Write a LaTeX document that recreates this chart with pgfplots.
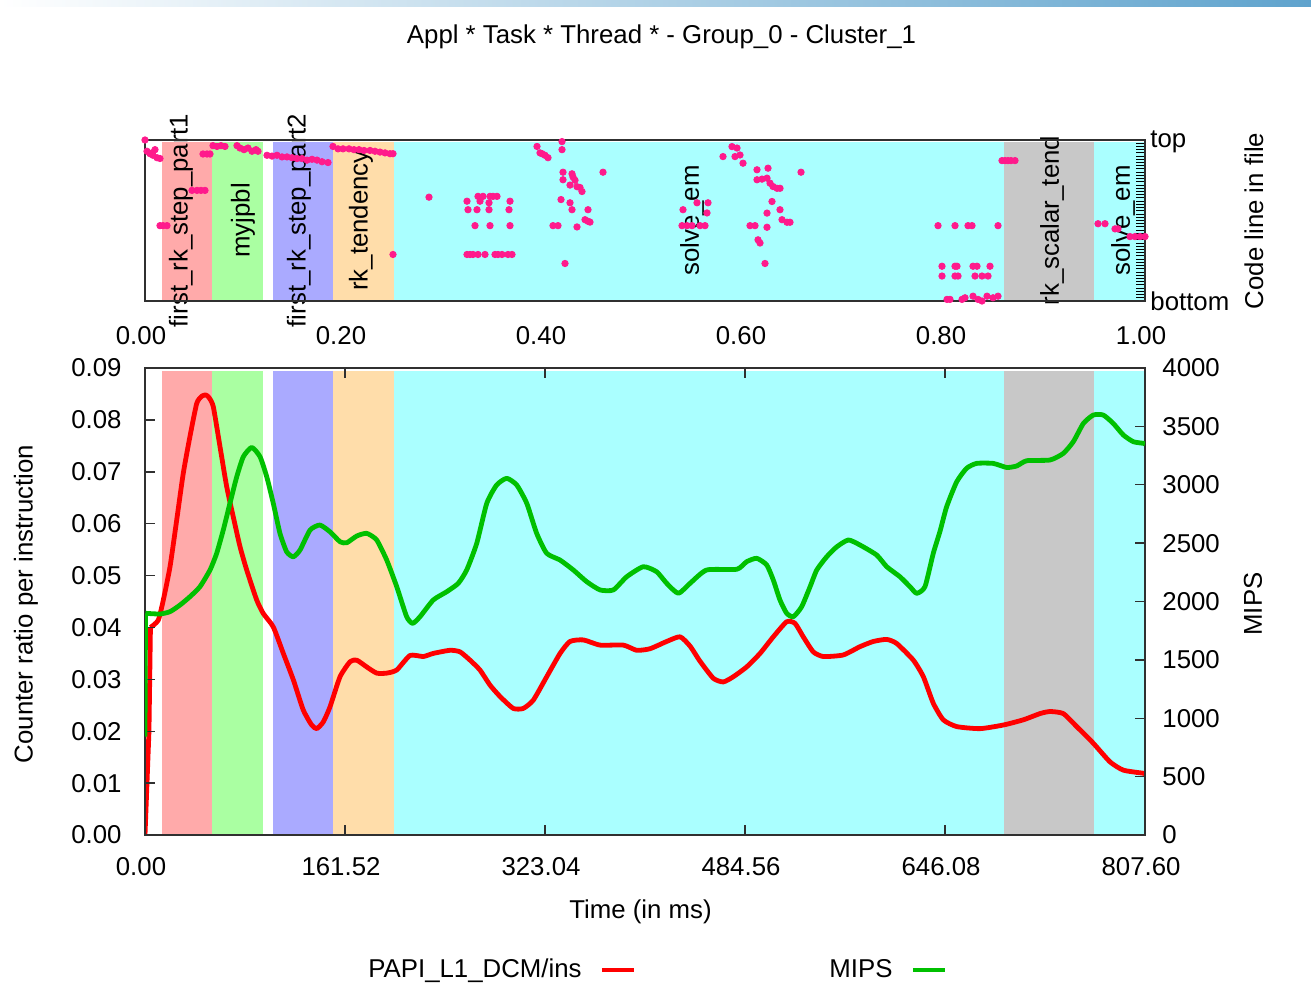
\documentclass[border=0pt]{standalone}
\usepackage{fontspec}
\setmainfont{Liberation Sans}
\usepackage{pgfplots}
\pgfplotsset{compat=1.18}
\definecolor{regred}{HTML}{FFAAAA}
\definecolor{reggreen}{HTML}{AAFFA2}
\definecolor{regblue}{HTML}{AAAAFF}
\definecolor{regorange}{HTML}{FFDDAA}
\definecolor{regcyan}{HTML}{AAFFFF}
\definecolor{reggray}{HTML}{C8C8C8}
\definecolor{linered}{HTML}{FF0000}
\definecolor{linegreen}{HTML}{00C000}
\definecolor{dotpink}{HTML}{FF1A8C}
\definecolor{stripblue}{HTML}{5FA3CD}
\definecolor{frame}{HTML}{303030}
\pgfplotsset{scaled ticks=false}
\begin{document}
\begin{tikzpicture}[font=\fontsize{12.9}{15}\selectfont]
\useasboundingbox (0pt,0pt) rectangle (655.5pt,-497.5pt);
\shade[left color=white, right color=stripblue] (0pt,0pt) rectangle (655.5pt,-3.5pt);

% ---------------- top panel ----------------
\begin{axis}[
  at={(72.5pt,-150.5pt)}, anchor=south west,
  width=500pt, height=80.5pt, scale only axis,
  xmin=0, xmax=1, ymin=0, ymax=1,
  clip=false, axis on top,
  axis line style={frame, line width=0.8pt},
  xtick={0,0.2,0.4,0.6,0.8,1},
  xticklabels={0.00,0.20,0.40,0.60,0.80,1.00},
  xtick style={draw=none},
  xticklabel style={inner sep=0pt, anchor=north, yshift=-12.5pt, xshift=-2pt},
  ytick={0.02,0.04,...,0.98},
  yticklabels={},
  ytick pos=right, tick align=inside, major tick length=4.5pt,
  ytick style={black, line width=0.5pt},
]
\fill[regred]    (axis cs:0.0173,0) rectangle (axis cs:0.0670,0.985);
\fill[reggreen]  (axis cs:0.0670,0) rectangle (axis cs:0.1183,0.985);
\fill[regblue]   (axis cs:0.1283,0) rectangle (axis cs:0.1877,0.985);
\fill[regorange] (axis cs:0.1877,0) rectangle (axis cs:0.2490,0.985);
\fill[regcyan]   (axis cs:0.2490,0) rectangle (axis cs:0.8590,0.985);
\fill[reggray]   (axis cs:0.8590,0) rectangle (axis cs:0.9493,0.985);
\fill[regcyan]   (axis cs:0.9493,0) rectangle (axis cs:1.0000,0.985);
\node[rotate=90] at (axis cs:0.036,0.5) {first\_rk\_step\_part1};
\node[rotate=90] at (axis cs:0.098,0.5) {myjpbl};
\node[rotate=90] at (axis cs:0.154,0.5) {first\_rk\_step\_part2};
\node[rotate=90] at (axis cs:0.216,0.5) {rk\_tendency};
\node[rotate=90] at (axis cs:0.547,0.5) {solve\_em};
\node[rotate=90] at (axis cs:0.907,0.5) {rk\_scalar\_tend};
\node[rotate=90] at (axis cs:0.978,0.5) {solve\_em};
\addplot[only marks, mark=*, mark size=1.6pt, color=dotpink, mark options={draw=dotpink, fill=dotpink}] table {
x y
0.000 1.000
0.002 0.930
0.005 0.915
0.008 0.905
0.010 0.940
0.012 0.890
0.015 0.885
0.007 0.920
0.015 0.468
0.018 0.468
0.022 0.468
0.058 0.913
0.062 0.913
0.065 0.913
0.047 0.687
0.052 0.687
0.056 0.687
0.060 0.687
0.068 0.965
0.072 0.960
0.076 0.965
0.080 0.960
0.092 0.965
0.095 0.950
0.099 0.940
0.103 0.950
0.107 0.930
0.111 0.940
0.113 0.930
0.122 0.905
0.127 0.900
0.132 0.905
0.137 0.895
0.142 0.895
0.147 0.890
0.152 0.885
0.157 0.885
0.162 0.875
0.167 0.880
0.172 0.875
0.177 0.865
0.183 0.860
0.188 0.960
0.193 0.945
0.198 0.945
0.204 0.945
0.209 0.940
0.214 0.940
0.219 0.935
0.225 0.935
0.230 0.930
0.235 0.925
0.240 0.920
0.245 0.915
0.248 0.915
0.248 0.289
0.284 0.645
0.333 0.650
0.338 0.650
0.345 0.650
0.348 0.650
0.352 0.650
0.322 0.620
0.335 0.620
0.365 0.620
0.323 0.567
0.332 0.567
0.344 0.567
0.364 0.567
0.344 0.610
0.330 0.468
0.345 0.468
0.365 0.468
0.322 0.289
0.325 0.289
0.328 0.289
0.333 0.289
0.340 0.289
0.350 0.289
0.353 0.289
0.357 0.289
0.363 0.289
0.367 0.289
0.392 0.960
0.395 0.920
0.397 0.915
0.400 0.905
0.403 0.890
0.417 0.990
0.417 0.940
0.418 0.800
0.418 0.753
0.416 0.630
0.425 0.610
0.427 0.567
0.427 0.790
0.428 0.770
0.430 0.750
0.425 0.720
0.432 0.710
0.435 0.705
0.437 0.680
0.408 0.468
0.413 0.468
0.432 0.460
0.443 0.567
0.440 0.505
0.445 0.490
0.443 0.495
0.458 0.800
0.420 0.233
0.538 0.567
0.537 0.468
0.542 0.468
0.547 0.468
0.555 0.468
0.560 0.468
0.552 0.610
0.562 0.547
0.563 0.610
0.578 0.897
0.587 0.959
0.592 0.950
0.590 0.897
0.595 0.907
0.598 0.856
0.612 0.815
0.623 0.825
0.612 0.753
0.617 0.757
0.622 0.763
0.625 0.732
0.628 0.711
0.632 0.700
0.635 0.700
0.627 0.618
0.635 0.567
0.637 0.505
0.642 0.489
0.645 0.489
0.622 0.546
0.622 0.458
0.605 0.468
0.610 0.468
0.613 0.380
0.615 0.360
0.620 0.233
0.656 0.800
0.793 0.468
0.810 0.468
0.797 0.216
0.810 0.216
0.797 0.155
0.810 0.155
0.802 0.010
0.823 0.468
0.827 0.468
0.853 0.468
0.812 0.216
0.828 0.216
0.832 0.216
0.845 0.216
0.813 0.155
0.830 0.155
0.837 0.155
0.843 0.155
0.805 0.010
0.817 0.010
0.820 0.020
0.828 0.030
0.833 0.010
0.837 0.000
0.842 0.030
0.848 0.020
0.853 0.030
0.857 0.872
0.860 0.872
0.863 0.872
0.866 0.872
0.870 0.872
0.953 0.480
0.960 0.480
0.970 0.448
0.973 0.448
0.985 0.400
0.990 0.400
0.995 0.400
1.000 0.400
};
\node[anchor=west, inner sep=0pt, xshift=2.5pt, yshift=-1pt] at (rel axis cs:1,1) {top};
\node[anchor=west, inner sep=0pt, xshift=2.5pt] at (rel axis cs:1,0) {bottom};
\end{axis}

% ---------------- bottom panel, left axis ----------------
\begin{axis}[
  at={(72.5pt,-417.5pt)}, anchor=south west,
  width=500pt, height=233.5pt, scale only axis,
  xmin=0, xmax=807.6, ymin=0, ymax=0.09,
  axis on top,
  axis line style={frame, line width=0.8pt},
  tick align=inside, major tick length=5pt,
  tick style={frame, line width=0.7pt},
  xtick={0,161.52,323.04,484.56,646.08,807.6},
  xticklabels={0.00,161.52,323.04,484.56,646.08,807.60},
  xticklabel style={inner sep=0pt, anchor=north, yshift=-11pt, xshift=-2pt},
  ytick={0,0.01,0.02,0.03,0.04,0.05,0.06,0.07,0.08,0.09},
  yticklabels={0.00,0.01,0.02,0.03,0.04,0.05,0.06,0.07,0.08,0.09},
  ytick pos=left,
  yticklabel style={inner sep=0pt, anchor=east, xshift=-11.5pt},
]
\fill[regred]    (axis cs:14.0,0)  rectangle (axis cs:54.1,0.0894);
\fill[reggreen]  (axis cs:54.1,0)  rectangle (axis cs:95.5,0.0894);
\fill[regblue]   (axis cs:103.6,0) rectangle (axis cs:151.6,0.0894);
\fill[regorange] (axis cs:151.6,0) rectangle (axis cs:201.1,0.0894);
\fill[regcyan]   (axis cs:201.1,0) rectangle (axis cs:693.7,0.0894);
\fill[reggray]   (axis cs:693.7,0) rectangle (axis cs:766.7,0.0894);
\fill[regcyan]   (axis cs:766.7,0) rectangle (axis cs:807.6,0.0894);
\addplot[linered, line width=2.4pt, line join=round] table {
x y
0 0
3.2 0.020
4.4 0.040
};
\addplot[linered, line width=2.4pt, line join=round, smooth, tension=0.35] table {
x y
4.4 0.040
10.7 0.0414
14.8 0.0453
20.2 0.0517
25.6 0.0607
30.9 0.0697
36.3 0.0768
41.8 0.0832
46.0 0.0846
49.3 0.0848
52.0 0.0842
55.2 0.0825
60.6 0.0748
66.0 0.0671
71.3 0.0613
76.7 0.0556
82.1 0.0511
90.2 0.0453
95.5 0.0427
103.6 0.0401
111.7 0.0350
119.8 0.0299
127.8 0.0241
134.6 0.0212
138.7 0.0205
144.0 0.0218
149.4 0.0247
157.5 0.0305
165.6 0.0334
171.0 0.0337
179.0 0.0324
187.1 0.0312
195.2 0.0312
203.3 0.0318
214.0 0.0346
224.8 0.0344
232.8 0.0350
246.3 0.0356
254.4 0.0353
262.5 0.0337
270.5 0.0318
278.6 0.0289
286.7 0.0267
297.4 0.0244
305.5 0.0244
313.6 0.0260
324.4 0.0305
335.2 0.0350
343.2 0.0373
354.0 0.0376
367.5 0.0366
386.3 0.0366
397.1 0.0356
407.8 0.0359
421.3 0.0373
432.1 0.0382
440.2 0.0364
448.2 0.0335
459.0 0.0302
467.0 0.0295
475.1 0.0305
485.9 0.0324
496.7 0.0350
507.4 0.0382
518.2 0.0411
524.9 0.0408
531.6 0.0382
539.7 0.0353
547.8 0.0344
563.9 0.0347
577.4 0.0363
588.2 0.0373
599.0 0.0377
607.1 0.0369
620.5 0.0337
628.6 0.0305
636.6 0.0254
644.7 0.0222
655.5 0.0209
674.3 0.0205
693.2 0.0212
709.3 0.0222
722.8 0.0234
730.9 0.0238
741.6 0.0234
752.4 0.0209
765.8 0.0177
779.3 0.0141
790.1 0.0125
806.2 0.0119
807.6 0.0118
};
\end{axis}

% ---------------- bottom panel, right axis ----------------
\begin{axis}[
  at={(72.5pt,-417.5pt)}, anchor=south west,
  width=500pt, height=233.5pt, scale only axis,
  xmin=0, xmax=807.6, ymin=0, ymax=4000,
  axis x line=none, axis y line*=right,
  axis line style={frame, line width=0.8pt},
  tick align=inside, major tick length=5pt,
  tick style={frame, line width=0.7pt},
  ytick={0,500,1000,1500,2000,2500,3000,3500,4000},
  yticklabels={0,500,1000,1500,2000,2500,3000,3500,4000},
  yticklabel style={inner sep=0pt, anchor=west, xshift=8.5pt},
  legend style={draw=none, fill=none, at={(0.217,-0.289)}, anchor=west,
    nodes={inner sep=0pt},
    /tikz/every odd column/.append style={column sep=9pt},
    /tikz/every even column/.append style={column sep=96.5pt}},
  legend columns=2,
  legend plot pos=right,
  legend image code/.code={\draw[#1] (0pt,0pt) -- (16pt,0pt);},
]
\addlegendimage{linered, line width=2.4pt}
\addlegendentry{PAPI\_L1\_DCM/ins}
\addplot[linegreen, line width=2.4pt, line join=round] table {
x y
0 842
0.4 1899
};
\addlegendentry{MIPS}
\addplot[linegreen, line width=2.4pt, line join=round, smooth, tension=0.35, forget plot] table {
x y
0.4 1899
12.1 1893
20.2 1913
28.3 1970
36.3 2041
44.4 2127
52.5 2270
57.9 2413
63.2 2612
68.6 2841
74.1 3069
79.4 3240
86.2 3320
92.9 3240
98.3 3069
103.6 2841
109.0 2584
114.4 2426
119.8 2383
125.2 2441
133.3 2612
141.3 2655
149.4 2597
157.5 2512
162.9 2503
171.0 2561
179.0 2584
187.1 2527
195.2 2355
203.3 2127
211.3 1870
216.2 1813
222.1 1870
232.8 2013
243.7 2084
253.0 2156
259.8 2270
267.9 2498
276.0 2841
284.0 2998
292.1 3055
300.2 2998
308.3 2841
316.3 2584
324.4 2413
335.2 2355
345.9 2270
356.7 2170
367.5 2099
378.2 2099
389.0 2212
402.4 2298
413.2 2255
421.3 2156
430.7 2070
440.2 2156
453.6 2270
477.9 2276
485.9 2341
494.0 2370
502.1 2313
507.4 2184
512.8 2013
518.2 1899
523.6 1870
530.3 1955
537.1 2127
542.5 2270
550.5 2383
558.6 2468
568.0 2527
577.4 2484
590.9 2398
599.0 2298
609.7 2212
617.8 2127
623.2 2070
629.9 2127
636.6 2413
642.0 2600
647.4 2812
655.5 3025
663.5 3141
671.6 3183
685.0 3183
695.9 3148
704.0 3161
712.1 3206
730.9 3212
741.6 3269
749.7 3369
757.8 3525
765.8 3597
773.9 3597
782.0 3525
790.1 3426
798.1 3369
806.2 3355
807.6 3350
};
\end{axis}

% ---------------- free texts ----------------
\node at (330.75pt,-18.5pt) {Appl * Task * Thread * - Group\_0 - Cluster\_1};
\node[rotate=90] at (627pt,-110.5pt) {Code line in file};
\node[rotate=90] at (13pt,-302pt) {Counter ratio per instruction};
\node[rotate=90] at (626.5pt,-302pt) {MIPS};
\node at (320.25pt,-456pt) {Time (in ms)};
\end{tikzpicture}
\end{document}
